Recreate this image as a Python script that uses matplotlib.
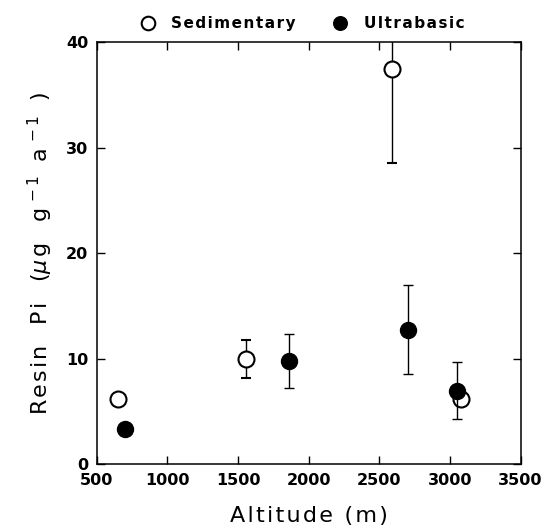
import numpy as np
import matplotlib
matplotlib.use("Agg")
import matplotlib.pyplot as plt

# sedimentary sites (open circles)
sed_alt = [650, 1560, 2590, 3080]
sed_pi = [6.2, 10.0, 37.4, 6.2]
sed_err = [np.nan, 1.8, 8.9, np.nan]

# ultrabasic sites (filled circles)
ult_alt = [700, 1860, 2700, 3050]
ult_pi = [3.4, 9.8, 12.75, 7.0]
ult_err = [np.nan, 2.55, 4.2, 2.7]

x_ticks = [500, 1000, 1500, 2000, 2500, 3000, 3500]
y_ticks = [0, 10, 20, 30, 40]

HAIR = "\u200a"


def spaced(s):
    # loose letter spacing like the original typesetting
    return HAIR.join(s)


plt.rcParams["font.family"] = ["DejaVu Sans"]
plt.rcParams["mathtext.fontset"] = "dejavusans"

fig = plt.figure(figsize=(5.48, 5.30), dpi=100)
ax = fig.add_axes([0.1763, 0.1236, 0.7737, 0.7972])

ax.errorbar(sed_alt, sed_pi, yerr=sed_err, fmt="o", ms=11.5, mfc="white",
            mec="black", mew=1.5, ecolor="black", elinewidth=1.0,
            capsize=3.6, capthick=1.0, label=spaced("Sedimentary"), zorder=3)
ax.errorbar(ult_alt, ult_pi, yerr=ult_err, fmt="o", ms=11.5, mfc="black",
            mec="black", mew=1.0, ecolor="black", elinewidth=1.0,
            capsize=3.6, capthick=1.0, label=spaced("Ultrabasic"), zorder=4)

ax.set_xlim(500, 3500)
ax.set_ylim(0, 40)
ax.set_xticks(x_ticks)
ax.set_yticks(y_ticks)
ax.tick_params(direction="in", length=6, width=1.0, top=True, right=True,
               labelsize=11.5, pad=6)
for lab in ax.get_xticklabels() + ax.get_yticklabels():
    lab.set_fontweight("bold")
for sp in ax.spines.values():
    sp.set_linewidth(1.1)

ax.set_xlabel(spaced("Altitude (m)"), fontsize=16, labelpad=13)
ylab = (spaced("Resin  Pi  (") + r"$\mu$" + HAIR + spaced("g  g") + r"$^{\,-1}$"
        + "  " + "a" + r"$^{\,-1}$" + "  )")
ax.set_ylabel(ylab, fontsize=16, labelpad=8)

handles, labels = ax.get_legend_handles_labels()
handles = [h[0] for h in handles]
leg = ax.legend(handles, labels, loc="lower center", bbox_to_anchor=(0.476, 1.0),
                ncol=2, frameon=False, markerscale=0.85,
                handletextpad=0.55, columnspacing=1.9, borderaxespad=0.3,
                prop={"weight": "bold", "size": 11})

fig.savefig("out.png", dpi=100)
